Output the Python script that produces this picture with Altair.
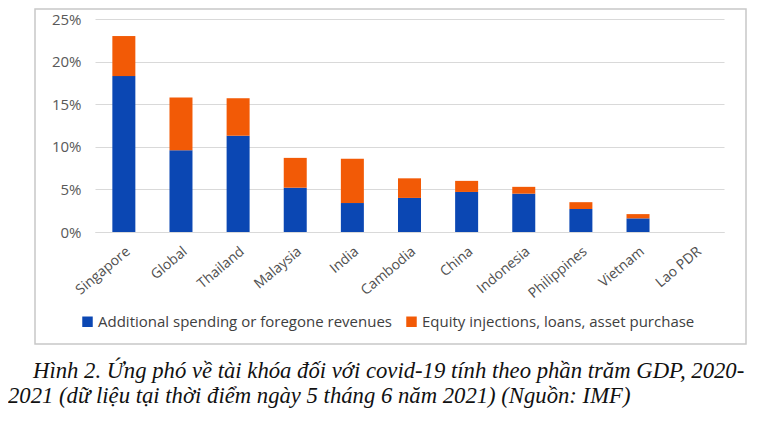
import altair as alt
import pandas as pd

countries = ["Singapore", "Global", "Thailand", "Malaysia", "India", "Cambodia",
             "China", "Indonesia", "Philippines", "Vietnam", "Lao PDR"]
spending = [18.3, 9.6, 11.3, 5.2, 3.4, 4.0, 4.7, 4.5, 2.7, 1.6, 0.0]
equity = [4.7, 6.2, 4.4, 3.5, 5.2, 2.3, 1.3, 0.8, 0.8, 0.5, 0.0]
series = ["Additional spending or foregone revenues", "Equity injections, loans, asset purchase"]
colors = ["#0b47b3", "#f25a06"]
y_ticks = [0, 5, 10, 15, 20, 25]
caption = [
    "Hình 2. Ứng phó về tài khóa đối với covid-19 tính theo phần trăm GDP, 2020-",
    "2021 (dữ liệu tại thời điểm ngày 5 tháng 6 năm 2021) (Nguồn: IMF)",
]

rows = []
for c, s, e in zip(countries, spending, equity):
    rows.append({"country": c, "series": series[0], "value": s, "ord": 0})
    rows.append({"country": c, "series": series[1], "value": e, "ord": 1})
df = pd.DataFrame(rows)

font = "Open Sans"

bars = alt.Chart(df).mark_bar(size=23).encode(
    x=alt.X("country:N", sort=countries, title=None,
            scale=alt.Scale(paddingInner=0.59, paddingOuter=0.3),
            axis=alt.Axis(labelAngle=-40, labelAlign="right", labelBaseline="top",
                          labelFontSize=14, labelColor="#505050",
                          labelFont=font, ticks=False, domain=True, domainColor="#d9d9d9",
                          labelPadding=12)),
    y=alt.Y("value:Q", stack="zero", title=None,
            scale=alt.Scale(domain=[0, 25]),
            axis=alt.Axis(values=y_ticks, labelExpr="datum.value + '%'", labelFontSize=15,
                          labelColor="#595959", labelFont=font, ticks=False, domain=False,
                          gridColor="#d9d9d9", gridWidth=1.2, labelPadding=14)),
    color=alt.Color("series:N", sort=series,
                    scale=alt.Scale(domain=series, range=colors),
                    legend=alt.Legend(title=None, orient="none", legendX=-15, legendY=295,
                                      direction="horizontal", symbolType="square",
                                      symbolSize=110, labelFontSize=15, labelFont=font,
                                      labelColor="#404040", columnPadding=12,
                                      labelOffset=3, labelLimit=400)),
    order=alt.Order("ord:Q"),
)

frame = alt.Chart(alt.Data(values=[{"k": 1}])).mark_rect(
    fillOpacity=0, stroke="#c8c8c8", strokeWidth=1.5
).encode(x=alt.value(-60), x2=alt.value(651), y=alt.value(-10), y2=alt.value(325))

cap_df = pd.DataFrame({"line": caption, "xo": [-62, -87], "yo": [359, 384]})
cap = alt.Chart(cap_df).mark_text(
    align="left", baseline="alphabetic", font="Liberation Serif", fontStyle="italic",
    fontSize=22.7, color="#111111"
).encode(x=alt.X("xo:Q", scale=None), y=alt.Y("yo:Q", scale=None), text="line:N")

chart = alt.layer(bars, frame, cap).properties(
    width=629, height=213,
    autosize=alt.AutoSizeParams(type="none"),
    padding={"left": 87, "top": 11, "right": 30, "bottom": 188},
).configure_view(stroke=None)

chart.save("out.html", embed_options={"renderer": "svg", "actions": False})
